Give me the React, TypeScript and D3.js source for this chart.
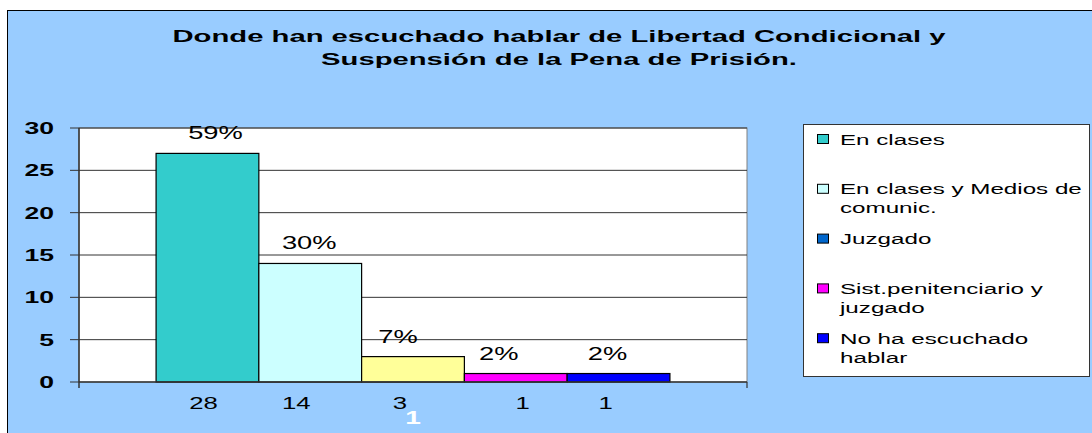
import React from 'react';
import * as d3 from 'd3';

const titleLines = ['Donde han escuchado hablar de Libertad Condicional y', 'Suspensión de la Pena de Prisión.'];
const series = ['En clases', 'En clases y Medios de comunic.', 'Juzgado', 'Sist.penitenciario y juzgado', 'No ha escuchado hablar'];
const barValues = [27, 14, 3, 1, 1];
const barColors = ['#33CCCC', '#CCFFFF', '#FFFF99', '#FF00FF', '#0000FF'];
const pctLabels = ['59%', '30%', '7%', '2%', '2%'];
const countLabels = ['28', '14', '3', '1', '1'];
const yTicks = [0, 5, 10, 15, 20, 25, 30];
const categoryLabel = '1';
const legendLines = [['En clases'], ['En clases y Medios de', 'comunic.'], ['Juzgado'], ['Sist.penitenciario y', 'juzgado'], ['No ha escuchado', 'hablar']];
const legendColors = ['#33CCCC', '#CCFFFF', '#0066CC', '#FF00FF', '#0000FF'];

const W = 1092;
const H = 433;
const plot = { left: 79, right: 747, top: 128, bottom: 382 };
const FONT = 'Arial, "Liberation Sans", sans-serif';
const SX = 1.56; // the original image is stretched sideways
// hand-placed labels in the source are a little off the bar centres
const pctShift = [8, -1, -15, -17, -11];
const countShift = [-4, -14, -13, 7, -13];

// text stretched horizontally like the source picture
const SText = ({ x, y, children, anchor = 'start', size = 16, weight = 'normal', fill = '#000', sx = SX }: any) => (
  <text transform={`translate(${x},${y}) scale(${sx},1)`} textAnchor={anchor}
    fontFamily={FONT} fontSize={size} fontWeight={weight} fill={fill}>{children}</text>
);

const App: React.FC = () => {
  const y = d3.scaleLinear().domain([0, 30]).range([plot.bottom, plot.top]);
  const x = d3.scaleBand<string>().domain(series).range([plot.left, plot.right])
    .paddingInner(0).paddingOuter(0.75);
  const bw = x.bandwidth();

  return (
    <svg width={W} height={H} style={{ position: 'absolute', left: 0, top: 0 }}>
      <rect x={7.5} y={10.5} width={W + 10} height={H + 10} fill="#99CCFF" stroke="#000" />

      {titleLines.map((t, i) => (
        <SText key={i} x={559} y={42 + i * 23} anchor="middle" size={17} weight="bold" sx={1.72}>{t}</SText>
      ))}

      {/* plot area */}
      <rect x={plot.left} y={plot.top} width={plot.right - plot.left} height={plot.bottom - plot.top}
        fill="#fff" stroke="#808080" />
      {yTicks.map(t => (
        <g key={t}>
          {t > 0 && <line x1={plot.left} x2={plot.right} y1={y(t)} y2={y(t)} stroke="#333" strokeWidth={1} />}
          <line x1={plot.left - 9} x2={plot.left} y1={y(t)} y2={y(t)} stroke="#333" />
          <SText x={54} y={y(t) + 6} anchor="end" size={17} weight="bold">{t}</SText>
        </g>
      ))}

      {series.map((s, i) => (
        <rect key={s} x={x(s)} y={y(barValues[i])} width={bw} height={y(0) - y(barValues[i])}
          fill={barColors[i]} stroke="#000" strokeWidth={1.2} />
      ))}

      {/* axes */}
      <line x1={plot.left} x2={plot.left} y1={plot.top} y2={plot.bottom + 6} stroke="#333" strokeWidth={1.5} />
      <line x1={plot.left} x2={plot.right} y1={plot.bottom} y2={plot.bottom} stroke="#333" strokeWidth={1.5} />
      <line x1={plot.right} x2={plot.right} y1={plot.bottom} y2={plot.bottom + 6} stroke="#333" strokeWidth={1.2} />

      {series.map((s, i) => (
        <SText key={s} x={x(s)! + bw / 2 + pctShift[i]} y={y(barValues[i]) - 14} anchor="middle" size={17.5}>{pctLabels[i]}</SText>
      ))}
      {series.map((s, i) => (
        <SText key={s} x={x(s)! + bw / 2 + countShift[i]} y={409} anchor="middle" size={16.5}>{countLabels[i]}</SText>
      ))}
      <SText x={(plot.left + plot.right) / 2} y={424} anchor="middle" size={18} weight="bold" fill="#fff">{categoryLabel}</SText>

      {/* legend */}
      <rect x={803.5} y={124.5} width={286} height={252} fill="#fff" stroke="#333" />
      {legendLines.map((lines, i) => {
        const cy = 139 + i * 49.8;
        return (
          <g key={i}>
            <rect x={817.5} y={cy - 4.5} width={11} height={9} fill={legendColors[i]} stroke="#000" />
            {lines.map((l, j) => (
              <SText key={j} x={840} y={cy + 5.5 + j * 19} size={15.5}>{l}</SText>
            ))}
          </g>
        );
      })}
    </svg>
  );
};

export default App;
